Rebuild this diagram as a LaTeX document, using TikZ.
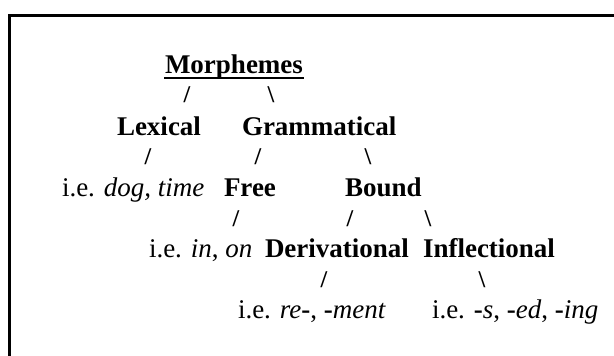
\documentclass[tikz,border=0pt]{standalone}
\usepackage{fontspec}
\setmainfont{Liberation Serif}
\tikzset{
  txt/.style={anchor=base west, inner sep=0pt, outer sep=0pt, font=\fontsize{27}{32}\selectfont},
  bold/.style={txt, font=\fontsize{27}{32}\selectfont\bfseries},
  slash/.style={anchor=base, inner sep=0pt, outer sep=0pt, font=\fontsize{24}{28}\selectfont\bfseries},
  frame/.style={line width=3pt}
}
\newcommand{\bh}{\textbf{-}}
\begin{document}
\begin{tikzpicture}[x=1pt,y=-1pt]
\useasboundingbox (0,0) rectangle (614,356);
\draw[frame] (620,15) -- (9.5,15) -- (9.5,362);
% row 0
\node[bold] (morph) at (165,73) {Morphemes};
\draw[line width=2.6pt] ([xshift=-1pt,yshift=-5pt]morph.base west) -- ([xshift=1pt,yshift=-5pt]morph.base east);
\node[slash] (s1) at (187,102) {/};
\node[slash] (s2) at (271,102) {\textbackslash};
% row 1
\node[bold] (lex) at (117,135) {Lexical};
\node[bold] (gram) at (242,135) {Grammatical};
\node[slash] (s3) at (148,164) {/};
\node[slash] (s4) at (258,164) {/};
\node[slash] (s5) at (368,164) {\textbackslash};
% row 2
\node[txt] (dog) at (62,196) {i.e. \textit{dog, time}};
\node[bold] (free) at (224,196) {Free};
\node[bold] (bound) at (345,196) {Bound};
\node[slash] (s6) at (236,226) {/};
\node[slash] (s7) at (350,226) {/};
\node[slash] (s8) at (428,226) {\textbackslash};
% row 3
\node[txt] (inon) at (149,257) {i.e. \textit{in}, \textit{on}};
\node[bold] (deriv) at (265,257) {Derivational};
\node[bold] (infl) at (423,257) {Inflectional};
\node[slash] (s9) at (324,287) {/};
\node[slash] (s10) at (482,287) {\textbackslash};
% row 4
\node[txt] (re) at (238,318) {i.e. \textit{re}\bh, \bh\textit{ment}};
\node[txt] (s) at (432,318) {i.e. \bh\textit{s}, \bh\textit{ed}, \bh\textit{ing}};
\end{tikzpicture}
\end{document}
